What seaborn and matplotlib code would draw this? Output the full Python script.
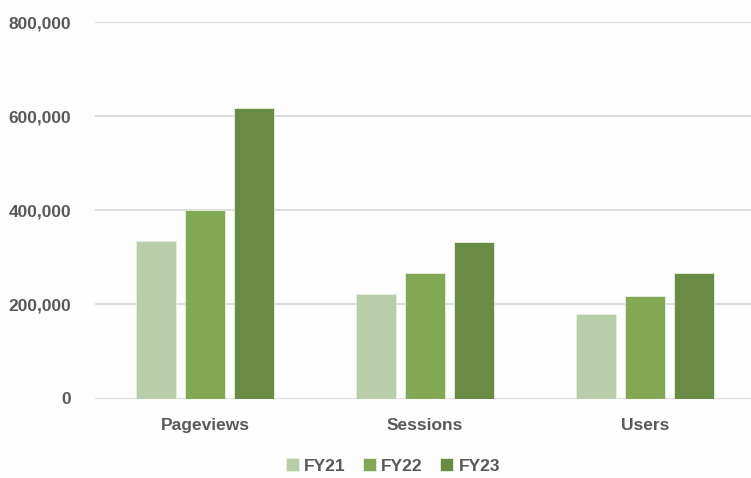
import pandas as pd
import matplotlib.pyplot as plt
import seaborn as sns
from matplotlib.ticker import FuncFormatter

metrics = ["Pageviews", "Sessions", "Users"]
years = ["FY21", "FY22", "FY23"]
fy21 = [335000, 223000, 180000]
fy22 = [401000, 267000, 217000]
fy23 = [617000, 332000, 267000]

colors = ["#b9cdaa", "#82a856", "#698b45"]
text_color = "#595959"

df = pd.DataFrame({
    "metric": metrics * 3,
    "year": [y for y in years for _ in metrics],
    "value": fy21 + fy22 + fy23,
})

sns.set_theme(style="white")
plt.rcParams["font.family"] = ["Liberation Sans", "DejaVu Sans"]

fig = plt.figure(figsize=(7.51, 4.78), dpi=100)
fig.patch.set_facecolor("#fdfdfd")
ax = fig.add_axes([95 / 751, 79.5 / 478, 656 / 751, 376.2 / 478])
ax.set_facecolor("#fdfdfd")

sns.barplot(data=df, x="metric", y="value", hue="year", order=metrics,
            hue_order=years, palette=colors, saturation=1, width=0.668, gap=0.2,
            edgecolor="#e8efe0", linewidth=0.6, ax=ax, zorder=3)

ax.set_xlim(-0.5, 2.482)
ax.set_ylim(0, 800000)
ax.set_yticks([0, 200000, 400000, 600000, 800000])
ax.yaxis.set_major_formatter(FuncFormatter(lambda v, p: f"{int(v):,}"))
ax.grid(axis="y", color="#d9d9d9", linewidth=1.3, zorder=0)
ax.set_axisbelow(True)
for s in ax.spines.values():
    s.set_visible(False)
ax.set_xlabel("")
ax.set_ylabel("")
ax.tick_params(axis="y", length=0, pad=17, labelsize=12.5, labelcolor=text_color)
ax.tick_params(axis="x", length=0, pad=14, labelsize=12.5, labelcolor=text_color)
for lbl in ax.get_xticklabels() + ax.get_yticklabels():
    lbl.set_fontweight("bold")

handles, labels = ax.get_legend_handles_labels()
ax.get_legend().remove()
fig.legend(handles, labels, loc="center", bbox_to_anchor=(393 / 751, 1 - 466 / 478),
           ncol=3, frameon=False, handlelength=0.75, handleheight=0.75,
           handletextpad=0.3, columnspacing=1.0,
           prop={"weight": "bold", "size": 12.5}, labelcolor=text_color)

fig.savefig("out.png", dpi=100, facecolor=fig.get_facecolor())
